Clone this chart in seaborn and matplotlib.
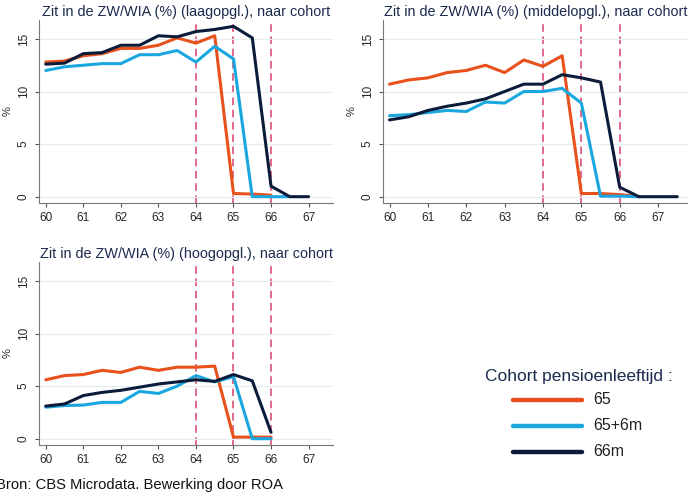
import numpy as np
import pandas as pd
import matplotlib
matplotlib.use("Agg")
import matplotlib.pyplot as plt
import seaborn as sns

sns.set_style("white")
plt.rcParams['font.family'] = ['Liberation Sans', 'DejaVu Sans']

# age (years, half-year steps)
ages = [60, 60.5, 61, 61.5, 62, 62.5, 63, 63.5, 64, 64.5, 65, 65.5, 66, 66.5, 67, 67.5]

cohorts = ["65", "65+6m", "66m"]
colors = {"65": "#e8501c", "65+6m": "#1aa7e0", "66m": "#0b1b3a"}

# laagopgeleid
laag_65 = [12.8, 12.9, 13.4, 13.6, 14.1, 14.1, 14.4, 15.1, 14.6, 15.3, 0.3, 0.25, 0.15]
laag_65_6m = [12.0, 12.35, 12.5, 12.65, 12.65, 13.5, 13.5, 13.9, 12.8, 14.3, 13.1, 0.0, 0.0, 0.0]
laag_66 = [12.6, 12.7, 13.6, 13.7, 14.4, 14.4, 15.3, 15.2, 15.7, 15.9, 16.2, 15.1, 1.0, 0.0, 0.0]

# middelopgeleid
midden_65 = [10.7, 11.1, 11.3, 11.8, 12.0, 12.5, 11.8, 13.0, 12.4, 13.4, 0.3, 0.3, 0.2, 0.0]
midden_65_6m = [7.7, 7.8, 8.0, 8.2, 8.1, 9.0, 8.9, 10.0, 10.0, 10.3, 8.9, 0.05, 0.05, 0.0]
midden_66 = [7.3, 7.6, 8.2, 8.6, 8.9, 9.3, 10.0, 10.7, 10.7, 11.6, 11.3, 10.9, 0.9, 0.0, 0.0, 0.0]

# hoogopgeleid
hoog_65 = [5.6, 6.0, 6.1, 6.5, 6.3, 6.8, 6.5, 6.8, 6.8, 6.9, 0.15, 0.15, 0.15]
hoog_65_6m = [3.0, 3.15, 3.2, 3.45, 3.45, 4.5, 4.3, 5.0, 6.0, 5.4, 5.9, 0.0, 0.0]
hoog_66 = [3.1, 3.3, 4.1, 4.4, 4.6, 4.9, 5.2, 5.4, 5.6, 5.45, 6.1, 5.5, 0.6]

panels = [
    ("Zit in de ZW/WIA (%) (laagopgl.), naar cohort", [laag_65, laag_65_6m, laag_66]),
    ("Zit in de ZW/WIA (%) (middelopgl.), naar cohort", [midden_65, midden_65_6m, midden_66]),
    ("Zit in de ZW/WIA (%) (hoogopgl.), naar cohort", [hoog_65, hoog_65_6m, hoog_66]),
]


def to_long(series):
    rows = []
    for name, vals in zip(cohorts, series):
        for a, v in zip(ages, vals):
            rows.append({"leeftijd": a, "pct": v, "cohort": name})
    return pd.DataFrame(rows)


W, H = 688, 496
fig = plt.figure(figsize=(W / 100, H / 100), dpi=100)


def box(x0, y0, x1, y1):
    return [x0 / W, 1 - y1 / H, (x1 - x0) / W, (y1 - y0) / H]


axes_boxes = [box(39, 20, 333, 203), box(383, 20, 688, 203), box(39, 262, 333, 445)]
xlims = [(59.82, 67.65), (59.83, 67.78), (59.82, 67.65)]
title_col = "#1b2a4e"

for (title, series), rect, xl in zip(panels, axes_boxes, xlims):
    ax = fig.add_axes(rect)
    df = to_long(series)
    sns.lineplot(data=df, x="leeftijd", y="pct", hue="cohort", palette=colors,
                 linewidth=2.2, ax=ax, legend=False)
    for v in [64, 65, 66]:
        ax.axvline(v, color="#d8416a", linestyle=(0, (5, 3)), linewidth=1.1, zorder=0)
    ax.set_xlim(*xl)
    ax.set_ylim(-0.6, 16.8)
    ax.set_xticks(range(60, 68))
    ax.set_yticks([0, 5, 10, 15])
    ax.yaxis.grid(True, color="#e6edf0", linewidth=0.8)
    ax.set_axisbelow(True)
    ax.tick_params(axis="both", labelsize=8.5, length=3, color="#555555", left=True, bottom=True)
    for lab in ax.get_yticklabels():
        lab.set_rotation(90)
        lab.set_va("center")
    ax.set_xlabel("")
    ax.set_ylabel("%", fontsize=8)
    ax.spines["top"].set_visible(False)
    ax.spines["right"].set_visible(False)
    ax.spines["left"].set_color("#777777")
    ax.spines["bottom"].set_color("#777777")
    ax.set_title(title, fontsize=10.4, color=title_col, pad=3)

# legend
fig.text(673 / W, 1 - 377 / H, "Cohort pensioenleeftijd :", fontsize=12.5,
         color=title_col, ha="right", va="center")
for i, name in enumerate(cohorts):
    yy = 1 - (400 + 26 * i) / H
    fig.add_artist(plt.Line2D([513 / W, 582 / W], [yy, yy], color=colors[name],
                              linewidth=3.2, transform=fig.transFigure))
    fig.text(593 / W, yy, name, fontsize=11.5, color="#222222", va="center")

fig.text(-4 / W, 1 - 485 / H, "Bron: CBS Microdata. Bewerking door ROA",
         fontsize=10.6, color="#111111", va="center")

fig.savefig("out.png", dpi=100)
